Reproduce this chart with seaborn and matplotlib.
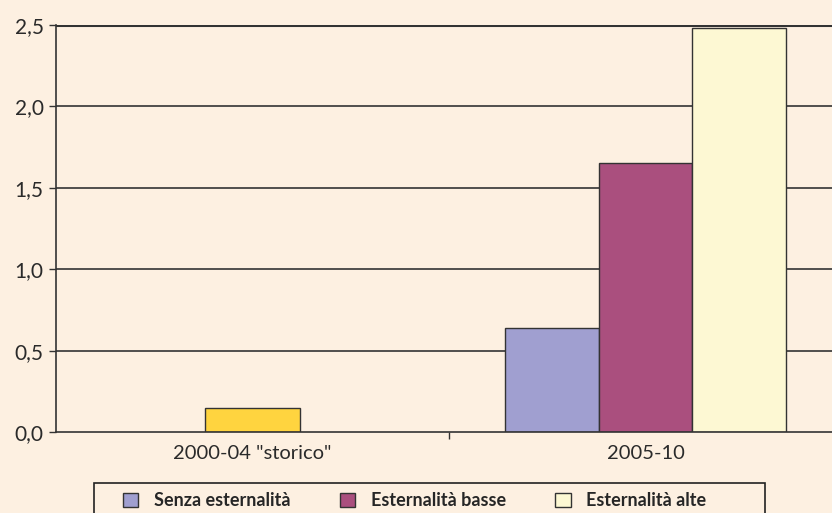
import pandas as pd
import matplotlib.pyplot as plt
from matplotlib.patches import Rectangle
import seaborn as sns

# data
periods = ['2000-04 "storico"', '2005-10']
storico_value = [0.15]
scenarios = ['Senza esternalità', 'Esternalità basse', 'Esternalità alte']
scenario_values = [0.64, 1.65, 2.48]
y_ticks = [0.0, 0.5, 1.0, 1.5, 2.0, 2.5]

bg = '#fdf0e1'
scenario_colors = ['#a09fd0', '#aa4f7e', '#fdf8d3']
storico_color = '#ffd43f'
dark = '#333333'

sns.set_style('white')
plt.rcParams['font.family'] = ['Lato', 'DejaVu Sans']

storico = pd.DataFrame({'period': [periods[0]], 'value': storico_value})
scen = pd.DataFrame({'period': [periods[1]] * 3, 'scenario': scenarios,
                     'value': scenario_values})

fig = plt.figure(figsize=(8.32, 5.13), dpi=100, facecolor=bg)
ax = fig.add_axes([56 / 832, 1 - 432 / 513, 786 / 832, 407 / 513])
ax.set_facecolor(bg)

# gridlines behind bars
for v in y_ticks[1:]:
    ax.axhline(v, color=dark, lw=1.2 if v < 2.5 else 2.2, zorder=0)

sns.barplot(data=storico, x='period', y='value', order=periods,
            color=storico_color, width=0.24, edgecolor=dark, linewidth=1,
            saturation=1, ax=ax, zorder=2)
sns.barplot(data=scen, x='period', y='value', hue='scenario', order=periods,
            hue_order=scenarios, palette=scenario_colors, width=0.716,
            edgecolor=dark, linewidth=1, saturation=1, ax=ax, zorder=2)

handles, labels = ax.get_legend_handles_labels()
ax.get_legend().remove()

ax.set_xlim(-0.5, 1.5)
ax.set_ylim(0, 2.5)
ax.set_yticks(y_ticks)
ax.set_yticklabels([f'{v:.1f}'.replace('.', ',') for v in y_ticks])
ax.tick_params(axis='y', left=True, length=5, width=1, color=dark,
               labelsize=15, pad=4, labelcolor='#2a2a2a')
ax.tick_params(axis='x', bottom=False, labelsize=14.5, pad=6,
               labelcolor='#2a2a2a')
ax.set_xticks([0.5], minor=True)
ax.tick_params(axis='x', which='minor', bottom=True, length=5, width=1,
               color=dark)
ax.set_xlabel('')
ax.set_ylabel('')

for s in ['left', 'bottom']:
    ax.spines[s].set_color(dark)
    ax.spines[s].set_linewidth(1.2)
ax.spines['top'].set_visible(False)
ax.spines['right'].set_visible(False)

# legend frame, bottom edge falls outside the picture
fig.patches.append(Rectangle((94 / 832, -0.05), 671 / 832, 0.05 + 30 / 513,
                             transform=fig.transFigure, facecolor=bg,
                             edgecolor='#222222', lw=1.2, zorder=1))

leg = fig.legend(handles, labels, loc='upper left', ncol=3,
                 bbox_to_anchor=(114 / 832, 1 - 483 / 513),
                 frameon=False, borderpad=0.0, columnspacing=2.75,
                 handlelength=0.85, handleheight=0.85, handletextpad=0.85,
                 prop={'weight': 'bold', 'size': 13})
leg.set_zorder(3)

fig.savefig('out.png', dpi=100, facecolor=bg)
